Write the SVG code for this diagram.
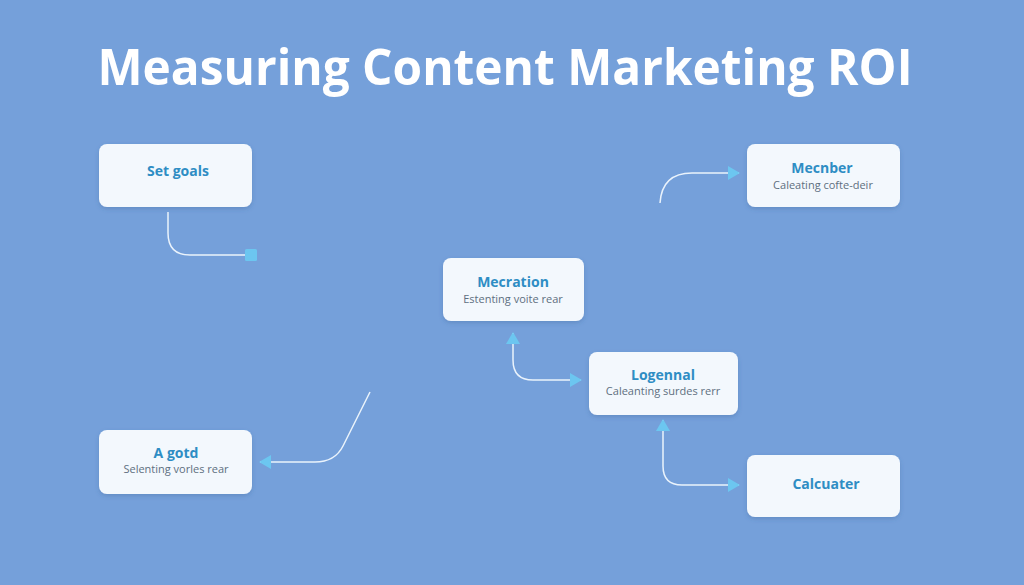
<svg xmlns="http://www.w3.org/2000/svg" width="1024" height="585" viewBox="0 0 1024 585">
<defs>
<filter id="sh" x="-20%" y="-20%" width="140%" height="160%">
<feDropShadow dx="0" dy="2" stdDeviation="2" flood-color="#3a5f95" flood-opacity="0.3"/>
</filter>
<marker id="ah" viewBox="0 0 12 14" refX="11" refY="7" markerWidth="12" markerHeight="14" markerUnits="userSpaceOnUse" orient="auto-start-reverse">
<path d="M0,0 L12,7 L0,14 Z" fill="#6CC6F0"/>
</marker>
</defs>
<style>
.box{fill:#F3F8FD;filter:url(#sh)}
.t{font-family:"Open Sans","Liberation Sans",sans-serif;font-weight:700;font-size:14px;fill:#2E8DC4;text-anchor:middle}
.s{font-family:"Open Sans","Liberation Sans",sans-serif;font-size:11px;fill:#5E6F80;text-anchor:middle}
.c{fill:none;stroke:#EAF3FC;stroke-width:1.5}
</style>
<rect width="1024" height="585" fill="#75A0DA"/>
<text x="505" y="85" font-family="'Open Sans','Liberation Sans',sans-serif" font-weight="700" font-size="50" fill="#FFFFFF" text-anchor="middle" textLength="815" lengthAdjust="spacingAndGlyphs">Measuring Content Marketing ROI</text>
<g id="connectors">
<path class="c" d="M168,212 L168,233 Q168,255 190,255 L245,255"/>
<rect x="245" y="249" width="12" height="12" rx="1.5" fill="#6CC6F0"/>
<path class="c" d="M660,203 Q662,173 692,173 L739,173" marker-end="url(#ah)"/>
<path class="c" d="M513,333 L513,360 Q513,380 533,380 L581,380" marker-start="url(#ah)" marker-end="url(#ah)"/>
<path class="c" d="M370,392 L343,446 Q335,462 315,462 L260,462" marker-end="url(#ah)"/>
<path class="c" d="M663,420 L663,466 Q663,485 682,485 L739,485" marker-start="url(#ah)" marker-end="url(#ah)"/>
</g>
<g id="node-set-goals">
<rect class="box" x="99" y="144" width="153" height="63" rx="8"/>
<text class="t" x="178" y="176">Set goals</text>
</g>
<g id="node-mecnber">
<rect class="box" x="747" y="144" width="153" height="63" rx="8"/>
<text class="t" x="822" y="173">Mecnber</text>
<text class="s" x="823" y="189">Caleating cofte-deir</text>
</g>
<g id="node-mecration">
<rect class="box" x="443" y="258" width="141" height="63" rx="8"/>
<text class="t" x="513" y="287">Mecration</text>
<text class="s" x="513" y="303">Estenting voite rear</text>
</g>
<g id="node-logennal">
<rect class="box" x="589" y="352" width="149" height="63" rx="8"/>
<text class="t" x="663" y="380">Logennal</text>
<text class="s" x="663" y="395">Caleanting surdes rerr</text>
</g>
<g id="node-a-gotd">
<rect class="box" x="99" y="430" width="153" height="64" rx="8"/>
<text class="t" x="176" y="458">A gotd</text>
<text class="s" x="176" y="473">Selenting vorles rear</text>
</g>
<g id="node-calcuater">
<rect class="box" x="747" y="455" width="153" height="62" rx="8"/>
<text class="t" x="826" y="489">Calcuater</text>
</g>
</svg>
